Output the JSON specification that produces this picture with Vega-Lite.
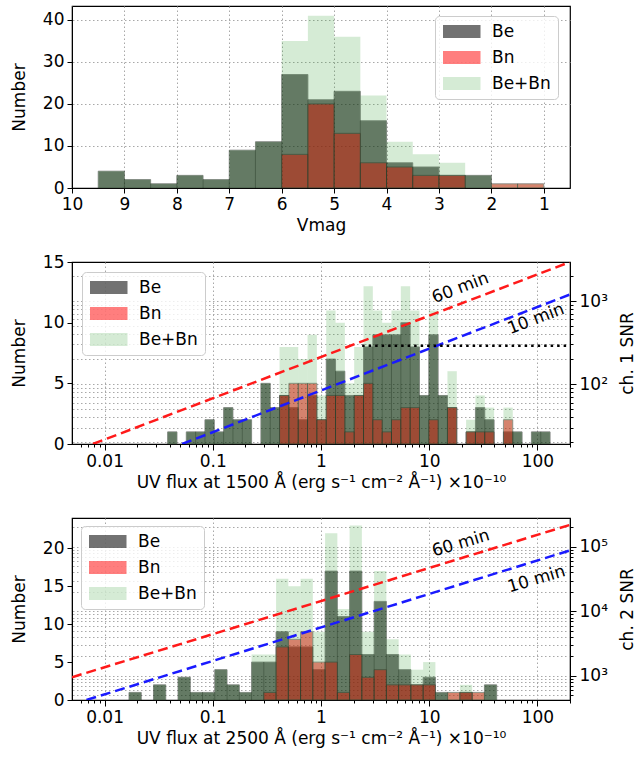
{
"$schema":"https://vega.github.io/schema/vega-lite/v6.json",
"padding":{"left":9,"right":2,"top":5,"bottom":4},
"spacing":74,
"bounds":"flush",
"config":{
 "font":"DejaVu Sans",
 "view":{"stroke":"black","strokeWidth":1.2},
 "axis":{"labelFontSize":17,"titleFontSize":17,"titleFontWeight":"normal","labelColor":"black","titleColor":"black","domainColor":"black","tickColor":"black","tickSize":5,"labelPadding":3,"gridColor":"#a8a8a8","gridDash":[1.5,2.5],"gridWidth":1,"zindex":1,"labelFlush":false,"labelOverlap":false,"titlePadding":5},
 "legend":{"labelFontSize":17,"labelColor":"black","symbolType":"M-1,-0.87H4V0.87H-1Z","symbolSize":225,"labelOffset":33,"rowPadding":8,"padding":7,"fillColor":"rgba(255,255,255,0.8)","strokeColor":"#cccccc","cornerRadius":4,"symbolStrokeWidth":0.8,"symbolStrokeColor":"#666"}
},
"datasets":{
 "top":[
  {"f":9.0,"f2":9.5,"series":"Be","n":4},{"f":8.5,"f2":9.0,"series":"Be","n":2},{"f":8.0,"f2":8.5,"series":"Be","n":1},{"f":7.5,"f2":8.0,"series":"Be","n":3},{"f":7.0,"f2":7.5,"series":"Be","n":2},{"f":6.5,"f2":7.0,"series":"Be","n":9},{"f":6.0,"f2":6.5,"series":"Be","n":11},{"f":5.5,"f2":6.0,"series":"Be","n":27},{"f":5.0,"f2":5.5,"series":"Be","n":21},{"f":4.5,"f2":5.0,"series":"Be","n":23},{"f":4.0,"f2":4.5,"series":"Be","n":16},{"f":3.5,"f2":4.0,"series":"Be","n":6},{"f":3.0,"f2":3.5,"series":"Be","n":5},{"f":2.5,"f2":3.0,"series":"Be","n":3},{"f":2.0,"f2":2.5,"series":"Be","n":3},
  {"f":5.5,"f2":6.0,"series":"Bn","n":8},{"f":5.0,"f2":5.5,"series":"Bn","n":20},{"f":4.5,"f2":5.0,"series":"Bn","n":13},{"f":4.0,"f2":4.5,"series":"Bn","n":6},{"f":3.5,"f2":4.0,"series":"Bn","n":5},{"f":3.0,"f2":3.5,"series":"Bn","n":3},{"f":2.5,"f2":3.0,"series":"Bn","n":3},{"f":1.5,"f2":2.0,"series":"Bn","n":1},{"f":1.0,"f2":1.5,"series":"Bn","n":1},
  {"f":9.0,"f2":9.5,"series":"Be+Bn","n":4},{"f":8.5,"f2":9.0,"series":"Be+Bn","n":2},{"f":8.0,"f2":8.5,"series":"Be+Bn","n":1},{"f":7.5,"f2":8.0,"series":"Be+Bn","n":3},{"f":7.0,"f2":7.5,"series":"Be+Bn","n":2},{"f":6.5,"f2":7.0,"series":"Be+Bn","n":9},{"f":6.0,"f2":6.5,"series":"Be+Bn","n":11},{"f":5.5,"f2":6.0,"series":"Be+Bn","n":35},{"f":5.0,"f2":5.5,"series":"Be+Bn","n":41},{"f":4.5,"f2":5.0,"series":"Be+Bn","n":36},{"f":4.0,"f2":4.5,"series":"Be+Bn","n":22},{"f":3.5,"f2":4.0,"series":"Be+Bn","n":11},{"f":3.0,"f2":3.5,"series":"Be+Bn","n":8},{"f":2.5,"f2":3.0,"series":"Be+Bn","n":6},{"f":2.0,"f2":2.5,"series":"Be+Bn","n":3},{"f":1.5,"f2":2.0,"series":"Be+Bn","n":1},{"f":1.0,"f2":1.5,"series":"Be+Bn","n":1}
 ],
 "mid":[
  {"f":0.03826,"f2":0.04667,"series":"Be","n":1},{"f":0.0569,"f2":0.0694,"series":"Be","n":1},{"f":0.0694,"f2":0.08464,"series":"Be","n":1},{"f":0.08464,"f2":0.10323,"series":"Be","n":2},{"f":0.10323,"f2":0.12589,"series":"Be","n":1},{"f":0.12589,"f2":0.15353,"series":"Be","n":3},{"f":0.15353,"f2":0.18727,"series":"Be","n":2},{"f":0.18727,"f2":0.22836,"series":"Be","n":2},{"f":0.27844,"f2":0.33958,"series":"Be","n":5},{"f":0.33958,"f2":0.41409,"series":"Be","n":3},{"f":0.41409,"f2":0.50503,"series":"Be","n":4},{"f":0.50503,"f2":0.61588,"series":"Be","n":3},{"f":0.61588,"f2":0.75109,"series":"Be","n":2},{"f":0.75109,"f2":0.91603,"series":"Be","n":4},{"f":0.91603,"f2":1.1171,"series":"Be","n":2},{"f":1.1171,"f2":1.3624,"series":"Be","n":7},{"f":1.3624,"f2":1.6614,"series":"Be","n":6},{"f":1.6614,"f2":2.0262,"series":"Be","n":4},{"f":2.0262,"f2":2.4714,"series":"Be","n":4},{"f":2.4714,"f2":3.013,"series":"Be","n":8},{"f":3.013,"f2":3.6747,"series":"Be","n":9},{"f":3.6747,"f2":4.4812,"series":"Be","n":9},{"f":4.4812,"f2":5.465,"series":"Be","n":9},{"f":5.465,"f2":6.6652,"series":"Be","n":10},{"f":6.6652,"f2":8.1283,"series":"Be","n":8},{"f":8.1283,"f2":9.9129,"series":"Be","n":4},{"f":9.9129,"f2":12.09,"series":"Be","n":9},{"f":12.09,"f2":14.744,"series":"Be","n":4},{"f":14.744,"f2":17.982,"series":"Be","n":3},{"f":21.928,"f2":26.743,"series":"Be","n":1},{"f":26.743,"f2":32.614,"series":"Be","n":3},{"f":32.614,"f2":39.776,"series":"Be","n":2},{"f":48.508,"f2":59.158,"series":"Be","n":1},{"f":59.158,"f2":72.144,"series":"Be","n":1},{"f":87.985,"f2":107.29,"series":"Be","n":1},{"f":107.29,"f2":130.86,"series":"Be","n":1},
  {"f":0.41409,"f2":0.50503,"series":"Bn","n":4},{"f":0.50503,"f2":0.61588,"series":"Bn","n":5},{"f":0.61588,"f2":0.75109,"series":"Bn","n":5},{"f":0.75109,"f2":0.91603,"series":"Bn","n":5},{"f":0.91603,"f2":1.1171,"series":"Bn","n":2},{"f":1.1171,"f2":1.3624,"series":"Bn","n":4},{"f":1.3624,"f2":1.6614,"series":"Bn","n":4},{"f":1.6614,"f2":2.0262,"series":"Bn","n":1},{"f":2.0262,"f2":2.4714,"series":"Bn","n":4},{"f":2.4714,"f2":3.013,"series":"Bn","n":5},{"f":3.013,"f2":3.6747,"series":"Bn","n":2},{"f":3.6747,"f2":4.4812,"series":"Bn","n":1},{"f":4.4812,"f2":5.465,"series":"Bn","n":2},{"f":5.465,"f2":6.6652,"series":"Bn","n":3},{"f":6.6652,"f2":8.1283,"series":"Bn","n":3},{"f":9.9129,"f2":12.09,"series":"Bn","n":2},{"f":14.744,"f2":17.982,"series":"Bn","n":3},{"f":21.928,"f2":26.743,"series":"Bn","n":1},{"f":26.743,"f2":32.614,"series":"Bn","n":1},{"f":32.614,"f2":39.776,"series":"Bn","n":1},{"f":48.508,"f2":59.158,"series":"Bn","n":2},
  {"f":0.03826,"f2":0.04667,"series":"Be+Bn","n":1},{"f":0.0569,"f2":0.0694,"series":"Be+Bn","n":1},{"f":0.0694,"f2":0.08464,"series":"Be+Bn","n":1},{"f":0.08464,"f2":0.10323,"series":"Be+Bn","n":2},{"f":0.10323,"f2":0.12589,"series":"Be+Bn","n":1},{"f":0.12589,"f2":0.15353,"series":"Be+Bn","n":3},{"f":0.15353,"f2":0.18727,"series":"Be+Bn","n":2},{"f":0.18727,"f2":0.22836,"series":"Be+Bn","n":2},{"f":0.27844,"f2":0.33958,"series":"Be+Bn","n":5},{"f":0.33958,"f2":0.41409,"series":"Be+Bn","n":3},{"f":0.41409,"f2":0.50503,"series":"Be+Bn","n":8},{"f":0.50503,"f2":0.61588,"series":"Be+Bn","n":8},{"f":0.61588,"f2":0.75109,"series":"Be+Bn","n":7},{"f":0.75109,"f2":0.91603,"series":"Be+Bn","n":9},{"f":0.91603,"f2":1.1171,"series":"Be+Bn","n":4},{"f":1.1171,"f2":1.3624,"series":"Be+Bn","n":11},{"f":1.3624,"f2":1.6614,"series":"Be+Bn","n":10},{"f":1.6614,"f2":2.0262,"series":"Be+Bn","n":5},{"f":2.0262,"f2":2.4714,"series":"Be+Bn","n":8},{"f":2.4714,"f2":3.013,"series":"Be+Bn","n":13},{"f":3.013,"f2":3.6747,"series":"Be+Bn","n":11},{"f":3.6747,"f2":4.4812,"series":"Be+Bn","n":10},{"f":4.4812,"f2":5.465,"series":"Be+Bn","n":11},{"f":5.465,"f2":6.6652,"series":"Be+Bn","n":13},{"f":6.6652,"f2":8.1283,"series":"Be+Bn","n":11},{"f":8.1283,"f2":9.9129,"series":"Be+Bn","n":4},{"f":9.9129,"f2":12.09,"series":"Be+Bn","n":11},{"f":12.09,"f2":14.744,"series":"Be+Bn","n":4},{"f":14.744,"f2":17.982,"series":"Be+Bn","n":6},{"f":21.928,"f2":26.743,"series":"Be+Bn","n":2},{"f":26.743,"f2":32.614,"series":"Be+Bn","n":4},{"f":32.614,"f2":39.776,"series":"Be+Bn","n":3},{"f":48.508,"f2":59.158,"series":"Be+Bn","n":3},{"f":59.158,"f2":72.144,"series":"Be+Bn","n":1},{"f":87.985,"f2":107.29,"series":"Be+Bn","n":1},{"f":107.29,"f2":130.86,"series":"Be+Bn","n":1}
 ],
 "bot":[
  {"f":0.01681,"f2":0.021823,"series":"Be","n":1},{"f":0.02832,"f2":0.036765,"series":"Be","n":2},{"f":0.047718,"f2":0.06193,"series":"Be","n":3},{"f":0.06193,"f2":0.080371,"series":"Be","n":1},{"f":0.080371,"f2":0.10433,"series":"Be","n":1},{"f":0.10433,"f2":0.13542,"series":"Be","n":4},{"f":0.13542,"f2":0.17579,"series":"Be","n":2},{"f":0.17579,"f2":0.22814,"series":"Be","n":1},{"f":0.22814,"f2":0.2961,"series":"Be","n":5},{"f":0.2961,"f2":0.38436,"series":"Be","n":5},{"f":0.38436,"f2":0.49888,"series":"Be","n":9},{"f":0.49888,"f2":0.64758,"series":"Be","n":7},{"f":0.64758,"f2":0.8404,"series":"Be","n":7},{"f":0.8404,"f2":1.0909,"series":"Be","n":4},{"f":1.0909,"f2":1.4163,"series":"Be","n":17},{"f":1.4163,"f2":1.8378,"series":"Be","n":11},{"f":1.8378,"f2":2.3855,"series":"Be","n":17},{"f":2.3855,"f2":3.0965,"series":"Be","n":6},{"f":3.0965,"f2":4.0185,"series":"Be","n":13},{"f":4.0185,"f2":5.2166,"series":"Be","n":6},{"f":5.2166,"f2":6.77,"series":"Be","n":4},{"f":6.77,"f2":8.788,"series":"Be","n":2},{"f":8.788,"f2":11.406,"series":"Be","n":3},{"f":11.406,"f2":14.806,"series":"Be","n":1},{"f":19.215,"f2":24.946,"series":"Be","n":1},{"f":32.372,"f2":42.024,"series":"Be","n":2},
  {"f":0.2961,"f2":0.38436,"series":"Bn","n":1},{"f":0.38436,"f2":0.49888,"series":"Bn","n":7},{"f":0.49888,"f2":0.64758,"series":"Bn","n":8},{"f":0.64758,"f2":0.8404,"series":"Bn","n":9},{"f":0.8404,"f2":1.0909,"series":"Bn","n":5},{"f":1.0909,"f2":1.4163,"series":"Bn","n":5},{"f":1.4163,"f2":1.8378,"series":"Bn","n":1},{"f":1.8378,"f2":2.3855,"series":"Bn","n":6},{"f":2.3855,"f2":3.0965,"series":"Bn","n":3},{"f":3.0965,"f2":4.0185,"series":"Bn","n":4},{"f":4.0185,"f2":5.2166,"series":"Bn","n":2},{"f":5.2166,"f2":6.77,"series":"Bn","n":2},{"f":6.77,"f2":8.788,"series":"Bn","n":2},{"f":8.788,"f2":11.406,"series":"Bn","n":2},{"f":14.806,"f2":19.215,"series":"Bn","n":1},{"f":19.215,"f2":24.946,"series":"Bn","n":1},{"f":24.946,"f2":32.372,"series":"Bn","n":1},
  {"f":0.01681,"f2":0.021823,"series":"Be+Bn","n":1},{"f":0.02832,"f2":0.036765,"series":"Be+Bn","n":2},{"f":0.047718,"f2":0.06193,"series":"Be+Bn","n":3},{"f":0.06193,"f2":0.080371,"series":"Be+Bn","n":1},{"f":0.080371,"f2":0.10433,"series":"Be+Bn","n":1},{"f":0.10433,"f2":0.13542,"series":"Be+Bn","n":4},{"f":0.13542,"f2":0.17579,"series":"Be+Bn","n":2},{"f":0.17579,"f2":0.22814,"series":"Be+Bn","n":1},{"f":0.22814,"f2":0.2961,"series":"Be+Bn","n":6},{"f":0.2961,"f2":0.38436,"series":"Be+Bn","n":6},{"f":0.38436,"f2":0.49888,"series":"Be+Bn","n":16},{"f":0.49888,"f2":0.64758,"series":"Be+Bn","n":15},{"f":0.64758,"f2":0.8404,"series":"Be+Bn","n":16},{"f":0.8404,"f2":1.0909,"series":"Be+Bn","n":9},{"f":1.0909,"f2":1.4163,"series":"Be+Bn","n":22},{"f":1.4163,"f2":1.8378,"series":"Be+Bn","n":12},{"f":1.8378,"f2":2.3855,"series":"Be+Bn","n":23},{"f":2.3855,"f2":3.0965,"series":"Be+Bn","n":9},{"f":3.0965,"f2":4.0185,"series":"Be+Bn","n":17},{"f":4.0185,"f2":5.2166,"series":"Be+Bn","n":8},{"f":5.2166,"f2":6.77,"series":"Be+Bn","n":6},{"f":6.77,"f2":8.788,"series":"Be+Bn","n":4},{"f":8.788,"f2":11.406,"series":"Be+Bn","n":5},{"f":11.406,"f2":14.806,"series":"Be+Bn","n":1},{"f":14.806,"f2":19.215,"series":"Be+Bn","n":1},{"f":19.215,"f2":24.946,"series":"Be+Bn","n":2},{"f":24.946,"f2":32.372,"series":"Be+Bn","n":1},{"f":32.372,"f2":42.024,"series":"Be+Bn","n":2}
 ],
 "midRed":[{"f":0.0078,"s":19},{"f":200,"s":2950}],
 "midBlue":[{"f":0.052,"s":19},{"f":200,"s":1200}],
 "midDot":[{"f":2.4,"s":290},{"f":200,"s":290}],
 "midText":[{"f":19.4,"s":1435,"t":"60 min"},{"f":97,"s":607,"t":"10 min"}],
 "botRed":[{"f":0.005,"s":948},{"f":200,"s":219000}],
 "botBlue":[{"f":0.0068,"s":420},{"f":200,"s":88000}],
 "botText":[{"f":19.6,"s":113000,"t":"60 min"},{"f":98,"s":31300,"t":"10 min"}]
},
"vconcat":[
 {
  "width":498,"height":182,
  "data":{"name":"top"},
  "mark":{"type":"bar","stroke":"#222"},
  "encoding":{
   "x":{"field":"f","type":"quantitative","scale":{"domain":[0.5,10],"reverse":true,"nice":false,"zero":false},"axis":{"title":"Vmag","values":[1,2,3,4,5,6,7,8,9,10],"format":"d","grid":true}},
   "x2":{"field":"f2"},
   "y":{"field":"n","type":"quantitative","stack":null,"scale":{"domain":[0,43.3],"nice":false},"axis":{"title":"Number","values":[0,10,20,30,40],"grid":true,"titlePadding":14}},
   "y2":{"datum":0},
   "color":{"field":"series","type":"nominal","scale":{"domain":["Be","Bn","Be+Bn"],"range":["#000000","#ff0000","#2e9a2e"]},"legend":{"title":null,"orient":"none","legendX":363,"legendY":10}},
   "opacity":{"field":"series","type":"nominal","scale":{"type":"ordinal","domain":["Be","Bn","Be+Bn"],"range":[0.55,0.5,0.2]},"legend":{"title":null,"orient":"none","legendX":363,"legendY":10}},
   "strokeWidth":{"field":"series","type":"nominal","scale":{"type":"ordinal","domain":["Be","Bn","Be+Bn"],"range":[0.9,0.9,0]},"legend":null}
  }
 },
 {
  "width":498,"height":182,
  "encoding":{"x":{"field":"f","type":"quantitative","scale":{"type":"log","domain":[0.005,200],"nice":false},"axis":{"title":"UV flux at 1500 Å (erg s⁻¹ cm⁻² Å⁻¹) ×10⁻¹⁰","values":[0.006,0.007,0.008,0.009,0.01,0.02,0.03,0.04,0.05,0.06,0.07,0.08,0.09,0.1,0.2,0.3,0.4,0.5,0.6,0.7,0.8,0.9,1,2,3,4,5,6,7,8,9,10,20,30,40,50,60,70,80,90,100,200],"format":"~g","labelExpr":"abs(log(datum.value)/LN10 - round(log(datum.value)/LN10)) < 0.001 ? datum.label : ''","tickSize":{"condition":{"test":"abs(log(datum.value)/LN10 - round(log(datum.value)/LN10)) < 0.001","value":6},"value":3},"grid":true,"gridOpacity":{"condition":{"test":"abs(log(datum.value)/LN10 - round(log(datum.value)/LN10)) < 0.001","value":1},"value":0}}}},
  "layer":[
   {
    "data":{"name":"mid"},
    "mark":{"type":"bar","stroke":"#222"},
    "encoding":{
     "x2":{"field":"f2"},
     "y":{"field":"n","type":"quantitative","stack":null,"scale":{"domain":[0,15],"nice":false},"axis":{"title":"Number","values":[0,5,10,15],"grid":false,"titlePadding":14}},
     "y2":{"datum":0},
     "color":{"field":"series","type":"nominal","scale":{"domain":["Be","Bn","Be+Bn"],"range":["#000000","#ff0000","#2e9a2e"]},"legend":{"title":null,"orient":"none","legendX":10,"legendY":10}},
     "opacity":{"field":"series","type":"nominal","scale":{"type":"ordinal","domain":["Be","Bn","Be+Bn"],"range":[0.55,0.5,0.2]},"legend":{"title":null,"orient":"none","legendX":10,"legendY":10}},
     "strokeWidth":{"field":"series","type":"nominal","scale":{"type":"ordinal","domain":["Be","Bn","Be+Bn"],"range":[0.9,0.9,0]},"legend":null}
    }
   },
   {
    "encoding":{"y":{"field":"s","type":"quantitative","scale":{"type":"log","domain":[19,2950],"nice":false},"axis":{"orient":"right","title":"ch. 1 SNR","titleAngle":270,"titleBaseline":"top","titlePadding":12,"values":[20,30,40,50,60,70,80,90,100,200,300,400,500,600,700,800,900,1000,2000],"labelExpr":"datum.value == 100 ? '10²' : datum.value == 1000 ? '10³' : ''","tickSize":{"condition":{"test":"datum.value == 100 || datum.value == 1000","value":6},"value":3},"grid":true}}},
    "layer":[
     {"data":{"name":"midRed"},"mark":{"type":"line","color":"#ff1a1a","strokeDash":[10,5],"strokeWidth":2.5,"clip":true},"encoding":{}},
     {"data":{"name":"midBlue"},"mark":{"type":"line","color":"#1a1aff","strokeDash":[10,5],"strokeWidth":2.5,"clip":true},"encoding":{}},
     {"data":{"name":"midDot"},"mark":{"type":"line","color":"black","strokeDash":[2.5,4],"strokeWidth":2.5,"clip":true},"encoding":{}},
     {"data":{"name":"midText"},"mark":{"type":"text","angle":-21,"fontSize":17,"color":"black","align":"center","baseline":"middle"},"encoding":{"text":{"field":"t","type":"nominal"}}}
    ]
   }
  ],
  "resolve":{"scale":{"y":"independent"}}
 },
 {
  "width":498,"height":182,
  "encoding":{"x":{"field":"f","type":"quantitative","scale":{"type":"log","domain":[0.005,200],"nice":false},"axis":{"title":"UV flux at 2500 Å (erg s⁻¹ cm⁻² Å⁻¹) ×10⁻¹⁰","values":[0.006,0.007,0.008,0.009,0.01,0.02,0.03,0.04,0.05,0.06,0.07,0.08,0.09,0.1,0.2,0.3,0.4,0.5,0.6,0.7,0.8,0.9,1,2,3,4,5,6,7,8,9,10,20,30,40,50,60,70,80,90,100,200],"format":"~g","labelExpr":"abs(log(datum.value)/LN10 - round(log(datum.value)/LN10)) < 0.001 ? datum.label : ''","tickSize":{"condition":{"test":"abs(log(datum.value)/LN10 - round(log(datum.value)/LN10)) < 0.001","value":6},"value":3},"grid":true,"gridOpacity":{"condition":{"test":"abs(log(datum.value)/LN10 - round(log(datum.value)/LN10)) < 0.001","value":1},"value":0}}}},
  "layer":[
   {
    "data":{"name":"bot"},
    "mark":{"type":"bar","stroke":"#222"},
    "encoding":{
     "x2":{"field":"f2"},
     "y":{"field":"n","type":"quantitative","stack":null,"scale":{"domain":[0,24],"nice":false},"axis":{"title":"Number","values":[0,5,10,15,20],"grid":false,"titlePadding":14}},
     "y2":{"datum":0},
     "color":{"field":"series","type":"nominal","scale":{"domain":["Be","Bn","Be+Bn"],"range":["#000000","#ff0000","#2e9a2e"]},"legend":{"title":null,"orient":"none","legendX":9,"legendY":8}},
     "opacity":{"field":"series","type":"nominal","scale":{"type":"ordinal","domain":["Be","Bn","Be+Bn"],"range":[0.55,0.5,0.2]},"legend":{"title":null,"orient":"none","legendX":9,"legendY":8}},
     "strokeWidth":{"field":"series","type":"nominal","scale":{"type":"ordinal","domain":["Be","Bn","Be+Bn"],"range":[0.9,0.9,0]},"legend":null}
    }
   },
   {
    "encoding":{"y":{"field":"s","type":"quantitative","scale":{"type":"log","domain":[420,280000],"nice":false},"axis":{"orient":"right","title":"ch. 2 SNR","titleAngle":270,"titleBaseline":"top","titlePadding":12,"values":[500,600,700,800,900,1000,2000,3000,4000,5000,6000,7000,8000,9000,10000,20000,30000,40000,50000,60000,70000,80000,90000,100000,200000],"labelExpr":"datum.value == 1000 ? '10³' : datum.value == 10000 ? '10⁴' : datum.value == 100000 ? '10⁵' : ''","tickSize":{"condition":{"test":"datum.value == 1000 || datum.value == 10000 || datum.value == 100000","value":6},"value":3},"grid":true}}},
    "layer":[
     {"data":{"name":"botRed"},"mark":{"type":"line","color":"#ff1a1a","strokeDash":[10,5],"strokeWidth":2.5,"clip":true},"encoding":{}},
     {"data":{"name":"botBlue"},"mark":{"type":"line","color":"#1a1aff","strokeDash":[10,5],"strokeWidth":2.5,"clip":true},"encoding":{}},
     {"data":{"name":"botText"},"mark":{"type":"text","angle":-16.5,"fontSize":17,"color":"black","align":"center","baseline":"middle"},"encoding":{"text":{"field":"t","type":"nominal"}}}
    ]
   }
  ],
  "resolve":{"scale":{"y":"independent"}}
 }
],
"resolve":{"scale":{"x":"independent","y":"independent","color":"independent","opacity":"independent","strokeWidth":"independent"},"legend":{"color":"independent","opacity":"independent"}}
}
